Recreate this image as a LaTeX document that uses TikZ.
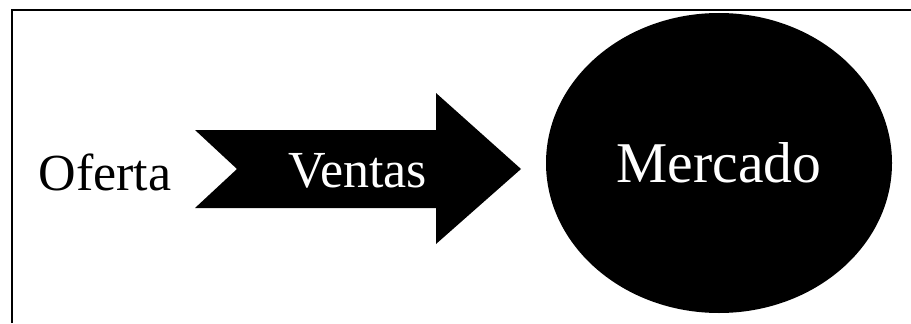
\documentclass[tikz,border=0pt]{standalone}
\usepackage{fontspec}
\setmainfont{Liberation Serif}
\usetikzlibrary{shapes.geometric}
\usetikzlibrary{positioning}

\begin{document}
\begin{tikzpicture}[lbl/.style={font=\fontsize{37}{42}\selectfont},
		mkt/.style={draw=none,ellipse,fill=black,text=white,minimum width=8.65cm,
		minimum height=7.5cm,inner sep=0pt,font=\fontsize{41}{47}\selectfont}]
	\useasboundingbox (0,0) rectangle (22.775,8.075);
	\draw[line width=1.5pt] (0.3,0) -- (0.3,7.825) -- (22.775,7.825);
	% the notched arrow
	\fill (4.875,4.825) -- (10.9,4.825) -- (10.9,5.75) -- (13.025,3.85)
		-- (10.9,1.975) -- (10.9,2.875) -- (4.875,2.875) -- (5.925,3.85) -- cycle;
	\node[lbl,anchor=base] (0) at (2.625,3.325) {Oferta};
	\node[lbl,anchor=base,text=white] (1) at (8.94,3.4) {Ventas};
	\node[mkt] (2) at (17.975,4.0) {Mercado};
	\end{tikzpicture}
\end{document}
